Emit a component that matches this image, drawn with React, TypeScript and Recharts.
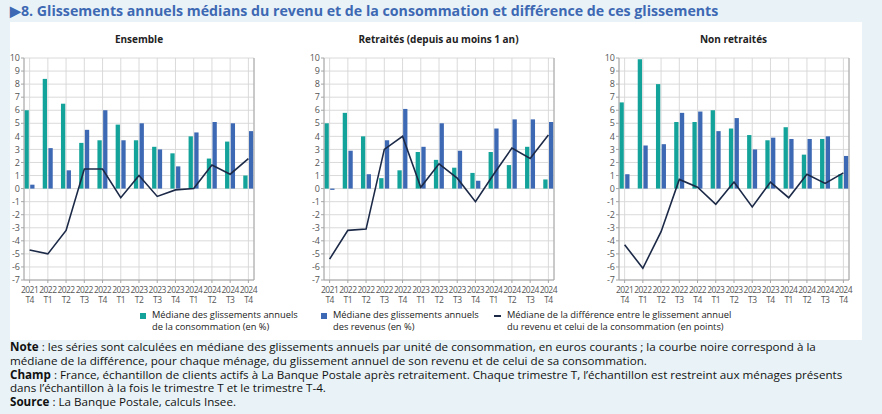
import React from "react";
import {
  ComposedChart,
  Bar,
  Line,
  XAxis,
  YAxis,
  CartesianGrid,
} from "recharts";

const quarters = [
  "2021 T4",
  "2022 T1",
  "2022 T2",
  "2022 T3",
  "2022 T4",
  "2023 T1",
  "2023 T2",
  "2023 T3",
  "2023 T4",
  "2024 T1",
  "2024 T2",
  "2024 T3",
  "2024 T4",
];

const yTicks = [-7, -6, -5, -4, -3, -2, -1, 0, 1, 2, 3, 4, 5, 6, 7, 8, 9, 10];

const ensembleConso = [6.0, 8.4, 6.5, 3.5, 3.7, 4.9, 3.7, 3.2, 2.7, 4.0, 2.3, 3.6, 1.0];
const ensembleRevenu = [0.3, 3.1, 1.4, 4.5, 6.0, 3.7, 5.0, 3.0, 1.7, 4.3, 5.1, 5.0, 4.4];
const ensembleDiff = [-4.7, -5.0, -3.2, 1.5, 1.5, -0.7, 1.0, -0.6, -0.1, 0.0, 1.8, 1.1, 2.3];

const retraitesConso = [5.0, 5.8, 4.0, 0.8, 1.4, 2.8, 2.2, 1.6, 1.2, 2.8, 1.8, 3.2, 0.7];
const retraitesRevenu = [-0.1, 2.9, 1.1, 3.7, 6.1, 3.2, 5.0, 2.9, 0.6, 4.6, 5.3, 5.3, 5.1];
const retraitesDiff = [-5.4, -3.2, -3.1, 3.0, 4.0, 0.1, 1.9, 0.8, -1.0, 1.1, 3.1, 2.3, 4.1];

const nonRetraitesConso = [6.6, 9.9, 8.0, 5.1, 5.1, 6.0, 4.6, 4.1, 3.7, 4.7, 2.6, 3.8, 1.1];
const nonRetraitesRevenu = [1.1, 3.3, 3.4, 5.8, 5.9, 4.4, 5.4, 3.0, 3.9, 3.8, 3.8, 4.0, 2.5];
const nonRetraitesDiff = [-4.3, -6.1, -3.3, 0.7, 0.1, -1.2, 0.5, -1.4, 0.5, -0.7, 1.1, 0.4, 1.2];

const TEAL = "#14a39a";
const BLUE = "#3d68b3";
const NAVY = "#1c2a48";
const GRID = "#d6d6d6";
const AXIS = "#a6a6a6";
const FONT = "'Open Sans', sans-serif";

function buildRows(conso: number[], revenu: number[], diff: number[]) {
  return quarters.map((q, i) => ({
    q,
    conso: conso[i],
    revenu: revenu[i],
    diff: diff[i],
  }));
}

const QuarterTick = (props: any) => {
  const { x, y, payload } = props;
  const [year, tri] = String(payload.value).split(" ");
  return (
    <text
      x={x}
      y={y}
      textAnchor="middle"
      fontSize={8.5}
      letterSpacing={-0.55}
      fill="#555"
      fontFamily={FONT}
    >
      <tspan x={x} dy={8}>{year}</tspan>
      <tspan x={x} dy={10}>{tri}</tspan>
    </text>
  );
};

interface PanelProps {
  title: string;
  left: number;
  conso: number[];
  revenu: number[];
  diff: number[];
}

function Panel({ title, left, conso, revenu, diff }: PanelProps) {
  const rows = buildRows(conso, revenu, diff);
  const axisW = 22;
  return (
    <div style={{ position: "absolute", left: left - axisW, top: 0, width: 274, height: 310 }}>
      <div
        style={{
          position: "absolute",
          left: axisW,
          top: 32,
          width: 230,
          textAlign: "center",
          fontFamily: FONT,
          fontWeight: 700,
          fontSize: 10,
          color: "#222",
        }}
      >
        {title}
      </div>
      <ComposedChart
        width={274}
        height={310}
        data={rows}
        margin={{ top: 58, right: 0, bottom: 0, left: 0 }}
        barSize={4.3}
        barGap={1.4}
      >
        <CartesianGrid stroke={GRID} strokeWidth={0.9} yAxisId="left" />
        <XAxis
          dataKey="q"
          height={30}
          interval={0}
          tick={<QuarterTick />}
          tickSize={3}
          tickLine={{ stroke: AXIS }}
          axisLine={{ stroke: AXIS }}
          padding={{ left: -3.5, right: -3.5 }}
        />
        <YAxis
          yAxisId="left"
          orientation="left"
          width={axisW}
          domain={[-7, 10]}
          ticks={yTicks}
          interval={0}
          tickSize={3}
          tickMargin={1}
          tickLine={{ stroke: AXIS }}
          axisLine={{ stroke: AXIS }}
          tick={{ fontSize: 9, fill: "#555", fontFamily: FONT }}
        />
        <YAxis
          yAxisId="right"
          orientation="right"
          width={axisW}
          domain={[-7, 10]}
          ticks={yTicks}
          interval={0}
          tickSize={3}
          tickMargin={1}
          tickLine={{ stroke: AXIS }}
          axisLine={{ stroke: AXIS }}
          tick={{ fontSize: 9, fill: "#555", fontFamily: FONT, textAnchor: "start" }}
        />
        <Bar yAxisId="left" dataKey="conso" fill={TEAL} isAnimationActive={false} />
        <Bar yAxisId="left" dataKey="revenu" fill={BLUE} isAnimationActive={false} />
        <Line
          yAxisId="left"
          dataKey="diff"
          type="linear"
          stroke={NAVY}
          strokeWidth={1.6}
          dot={false}
          activeDot={false}
          isAnimationActive={false}
        />
      </ComposedChart>
    </div>
  );
}

const legendText: React.CSSProperties = {
  position: "absolute",
  fontFamily: FONT,
  fontSize: 9.3,
  lineHeight: "12px",
  color: "#222",
  whiteSpace: "nowrap",
};

const noteLine: React.CSSProperties = {
  position: "absolute",
  left: 10,
  fontFamily: FONT,
  fontSize: 11.65,
  lineHeight: "14px",
  color: "#111",
  whiteSpace: "nowrap",
};

export default function App() {
  return (
    <div
      style={{
        position: "absolute",
        left: 0,
        top: 0,
        width: 882,
        height: 414,
        background: "#e9f3f7",
        overflow: "hidden",
      }}
    >
      <div
        style={{
          position: "absolute",
          left: 10,
          top: 1,
          fontFamily: FONT,
          fontWeight: 700,
          fontSize: 14.2,
          color: "#3d68b3",
          whiteSpace: "nowrap",
        }}
      >
        ▶8. Glissements annuels médians du revenu et de la consommation et différence de ces glissements
      </div>
      <div
        style={{
          position: "absolute",
          left: 10,
          top: 22,
          width: 852,
          height: 318,
          background: "#ffffff",
        }}
      />
      <Panel title="Ensemble" left={24} conso={ensembleConso} revenu={ensembleRevenu} diff={ensembleDiff} />
      <Panel
        title="Retraités (depuis au moins 1 an)"
        left={323.5}
        conso={retraitesConso}
        revenu={retraitesRevenu}
        diff={retraitesDiff}
      />
      <Panel
        title="Non retraités"
        left={618.5}
        conso={nonRetraitesConso}
        revenu={nonRetraitesRevenu}
        diff={nonRetraitesDiff}
      />

      <div style={{ position: "absolute", left: 140, top: 313, width: 6, height: 6, background: TEAL }} />
      <div style={{ ...legendText, left: 152, top: 309 }}>
        Médiane des glissements annuels
        <br />
        de la consommation (en %)
      </div>
      <div style={{ position: "absolute", left: 321, top: 313, width: 6, height: 6, background: BLUE }} />
      <div style={{ ...legendText, left: 333, top: 309 }}>
        Médiane des glissements annuels
        <br />
        des revenus (en %)
      </div>
      <div style={{ position: "absolute", left: 494, top: 315, width: 7, height: 2, background: NAVY }} />
      <div style={{ ...legendText, left: 507, top: 309 }}>
        Médiane de la différence entre le glissement annuel
        <br />
        du revenu et celui de la consommation (en points)
      </div>

      <div style={{ ...noteLine, top: 340 }}>
        <b>Note</b> : les séries sont calculées en médiane des glissements annuels par unité de consommation, en euros courants ; la courbe noire correspond à la
      </div>
      <div style={{ ...noteLine, top: 354 }}>
        médiane de la différence, pour chaque ménage, du glissement annuel de son revenu et de celui de sa consommation.
      </div>
      <div style={{ ...noteLine, top: 367.5 }}>
        <b>Champ</b> : France, échantillon de clients actifs à La Banque Postale après retraitement. Chaque trimestre T, l’échantillon est restreint aux ménages présents
      </div>
      <div style={{ ...noteLine, top: 381 }}>
        dans l’échantillon à la fois le trimestre T et le trimestre T-4.
      </div>
      <div style={{ ...noteLine, top: 394.5 }}>
        <b>Source</b> : La Banque Postale, calculs Insee.
      </div>
    </div>
  );
}
